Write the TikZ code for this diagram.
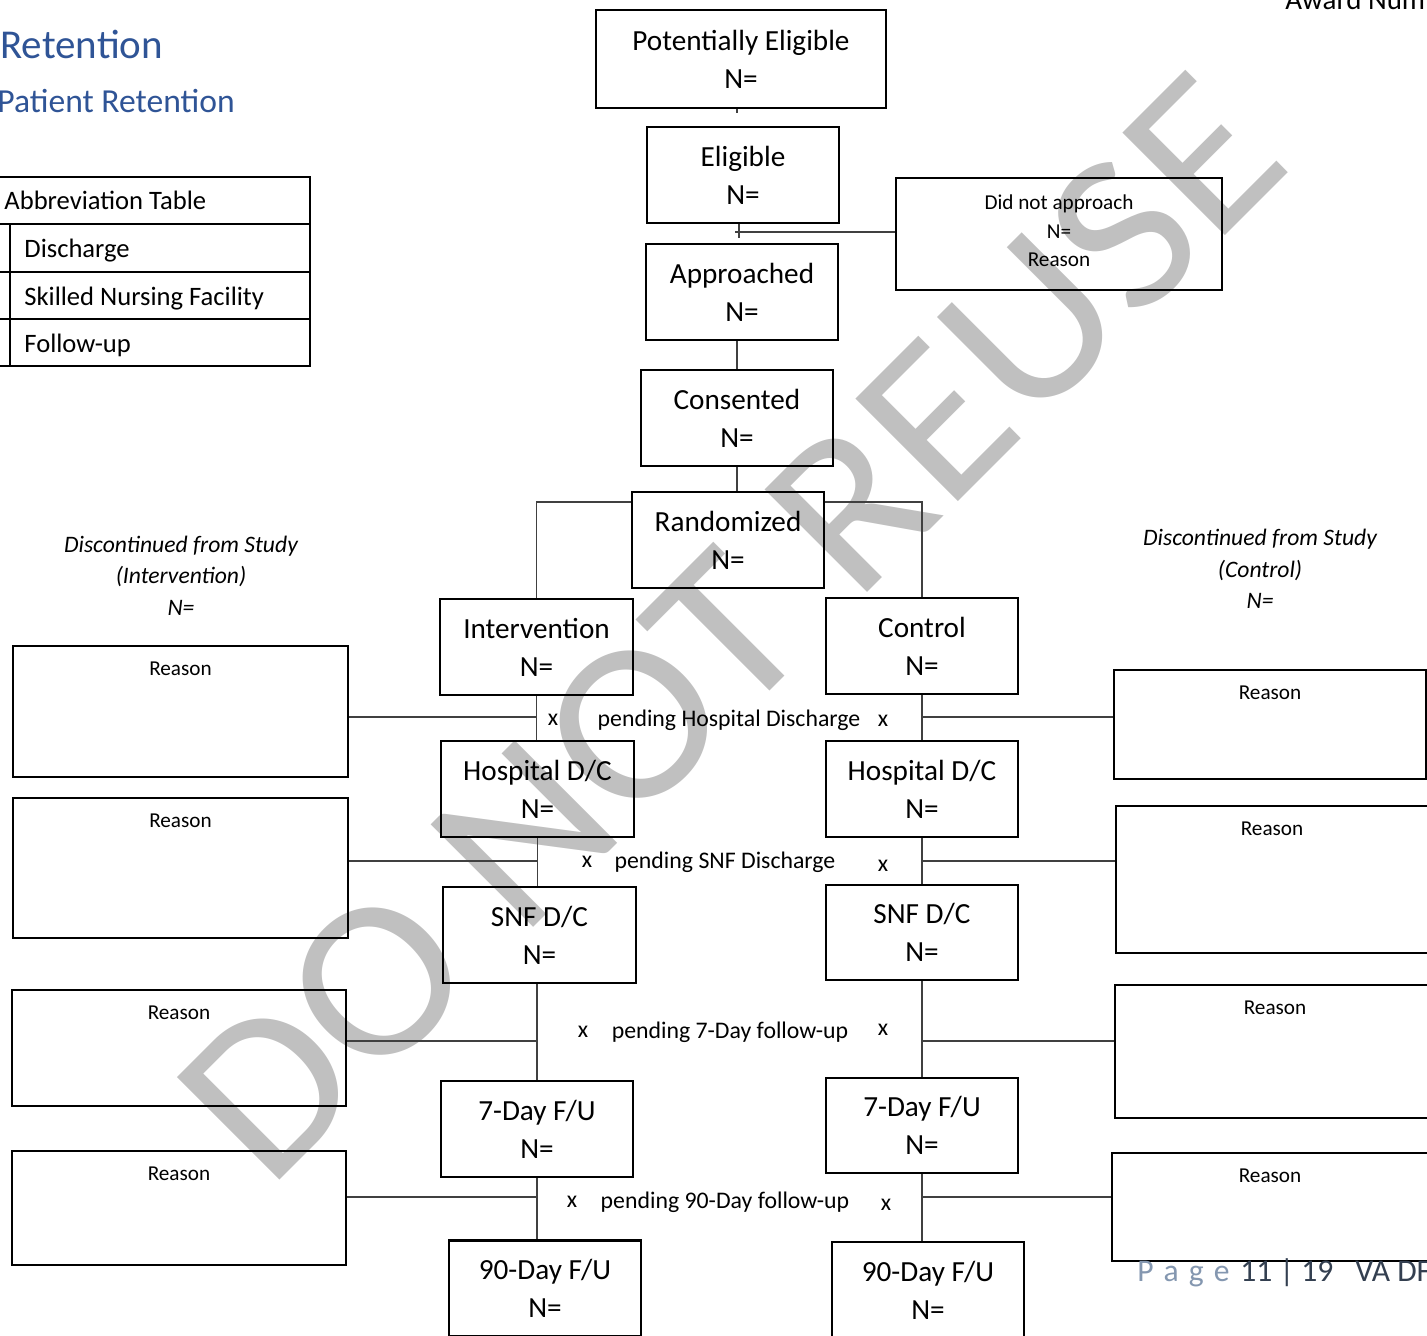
\documentclass[tikz,border=0pt]{standalone}
\usepackage{fontspec}
\setmainfont{Carlito}
\definecolor{headblue}{HTML}{2F5496}
\definecolor{pagegray}{HTML}{8497B0}
\definecolor{pagedark}{HTML}{333F50}
\definecolor{wmgray}{HTML}{C0C0C0}
\definecolor{linegray}{HTML}{404040}
\newcommand\myBoxFont{\fontsize{14.6}{19}\selectfont}
\newcommand\mySmallFont{\fontsize{10.6}{14.25}\selectfont}
\newcommand\myItFont{\fontsize{11.8}{15.75}\selectfont\itshape}
\newcommand\myPendFont{\fontsize{11.9}{14}\selectfont}
\newcommand\myTabFont{\fontsize{13.3}{16}\selectfont}
\newcommand\myWmFont{\fontsize{113}{113}\selectfont}
\begin{document}
\begin{tikzpicture}[x=0.5pt,y=-0.5pt,
  box/.style={draw, line width=1.3pt, minimum width=96pt, minimum height=48pt, align=center, inner sep=0pt, font=\myBoxFont},
  rbox/.style={draw, line width=1.3pt, inner sep=0pt},
  rlabel/.style={anchor=center, yshift=-12pt, font=\mySmallFont, inner sep=0pt},
  conn/.style={draw=linegray, line width=0.65pt},
  pend/.style={font=\myPendFont, inner sep=0pt},
  itlab/.style={font=\myItFont, align=center, inner sep=0pt},
  tabtext/.style={font=\myTabFont, anchor=base west, inner sep=0pt}]
\useasboundingbox (0,0) rectangle (1427,1335);
\clip (0,0) rectangle (1427,1335);

% watermark
\node[rotate=45, xscale=1.05, text=wmgray, font=\myWmFont, inner sep=0pt] (wm) at (731,627) {DO NOT REUSE};

% headings
\node[anchor=base west, inner sep=0pt, text=headblue, font=\fontsize{20.5}{24}\selectfont] (h1) at (0,58) {Retention};
\node[anchor=base west, inner sep=0pt, text=headblue, font=\fontsize{16.8}{20}\selectfont] (h2) at (-3,112) {Patient Retention};
\node[anchor=base west, inner sep=0pt, font=\fontsize{14.5}{17}\selectfont] (award) at (1285,9) {Award Num};

% abbreviation table
\draw[line width=1.3pt] (-10,177) rectangle (310,366);
\draw[line width=1.3pt] (-10,224) -- (310,224) (-10,272) -- (310,272) (-10,319) -- (310,319) (10,224) -- (10,366);
\node[tabtext] (t0) at (4,209) {Abbreviation Table};
\node[tabtext] (t1) at (24,257) {Discharge};
\node[tabtext] (t2) at (24,305) {Skilled Nursing Facility};
\node[tabtext] (t3) at (24,352) {Follow-up};

% main flow
\node[box, minimum width=145pt, minimum height=49pt] (PE) at (741,59) {Potentially Eligible\\N=};
\node[box] (El) at (743,175) {Eligible\\N=};
\node[box] (Ap) at (742,292) {Approached\\N=};
\node[box] (Co) at (737,418) {Consented\\N=};
\node[box] (Ra) at (728,540) {Randomized\\N=};
\node[box, minimum width=96.5pt] (Int) at (536.5,647) {Intervention\\N=};
\node[box] (Ctl) at (922,646) {Control\\N=};
\node[box, minimum width=96.5pt] (HDL) at (537.5,789) {Hospital D/C\\N=};
\node[box] (HDR) at (922,789) {Hospital D/C\\N=};
\node[box, minimum width=96.5pt] (SNFL) at (539.5,935) {SNF D/C\\N=};
\node[box, minimum height=47.5pt] (SNFR) at (922,932.5) {SNF D/C\\N=};
\node[box] (SevL) at (537,1129) {7-Day F/U\\N=};
\node[box, minimum height=47.5pt] (SevR) at (922,1125.5) {7-Day F/U\\N=};
\node[box] (NinL) at (545,1288.5) {90-Day F/U\\N=};
\node[box] (NinR) at (928,1290) {90-Day F/U\\N=};

\node[box, minimum width=163pt, minimum height=56pt, font=\mySmallFont, text depth=3pt] (DNA) at (1059,234) {Did not approach\\N=\\Reason};

% discontinued labels
\node[itlab] (dl) at (181,575.5) {Discontinued from Study\\(Intervention)\\N=};
\node[itlab] (dr) at (1260,569) {Discontinued from Study\\(Control)\\N=};

% reason boxes
\node[rbox, minimum width=167.5pt, minimum height=65.5pt, label={[rlabel]north:Reason}] (L1) at (180.5,711.5) {};
\node[rbox, minimum width=167.5pt, minimum height=70pt, label={[rlabel]north:Reason}] (L2) at (180.5,868) {};
\node[rbox, minimum width=167pt, minimum height=58pt, label={[rlabel]north:Reason}] (L3) at (179,1048) {};
\node[rbox, minimum width=167pt, minimum height=57pt, label={[rlabel]north:Reason}] (L4) at (179,1208) {};
\node[rbox, minimum width=156pt, minimum height=54.5pt, label={[rlabel]north:Reason}] (R1) at (1270,724.5) {};
\node[rbox, minimum width=156pt, minimum height=73.5pt, label={[rlabel]north:Reason}] (R2) at (1272,879.5) {};
\node[rbox, minimum width=160pt, minimum height=66.5pt, label={[rlabel]north:Reason}] (R3) at (1275,1051.5) {};
\node[rbox, minimum width=158pt, minimum height=54pt, label={[rlabel]north:Reason}] (R4) at (1270,1207) {};

% pending labels
\node[pend] (xa1) at (553,720) {x};
\node[pend] (pa) at (729,720) {pending Hospital Discharge};
\node[pend] (xa2) at (883,721) {x};
\node[pend] (xb1) at (587,862) {x};
\node[pend] (pb) at (725,862) {pending SNF Discharge};
\node[pend] (xb2) at (883,866) {x};
\node[pend] (xc1) at (583,1032) {x};
\node[pend] (pc) at (730,1032) {pending 7-Day follow-up};
\node[pend] (xc2) at (883,1030) {x};
\node[pend] (xd1) at (572,1202) {x};
\node[pend] (pd) at (725,1202) {pending 90-Day follow-up};
\node[pend] (xd2) at (886,1205) {x};

% footer
\node[anchor=base west, inner sep=0pt, text=pagegray, font=\fontsize{15.8}{18}\selectfont] (pg) at (1137,1281) {P\hspace{5pt}a\hspace{5pt}g\hspace{5pt}e};
\node[anchor=base west, inner sep=0pt, text=pagedark, font=\fontsize{15.8}{18}\selectfont] (pn) at (1240,1281) {11 | 19};
\node[anchor=base west, inner sep=0pt, text=pagedark, font=\fontsize{15.8}{18}\selectfont] (pv) at (1355,1281) {VA DF};

% connectors
\coordinate (tPE) at (737,113);
\draw[conn] (tPE |- PE.south) -- (tPE);
\coordinate (tE) at (739,238);
\coordinate (jE) at (735,232);
\draw[conn] (tE |- El.south) -- (tE);
\draw[conn] (jE) -- (DNA.west |- jE);
\draw[conn] (Co.north |- Ap.south) -- (Co.north);
\draw[conn] (Co.south) -- (Co.south |- Ra.north);
\coordinate (rb) at (0,502);
\draw[conn] (Ra.west |- rb) -- (Int.north |- rb) -- (Int.north);
\draw[conn] (Ra.east |- rb) -- (Ctl.north |- rb) -- (Ctl.north);

\coordinate (yA) at (0,717);
\coordinate (yB) at (0,861);
\coordinate (yC) at (0,1041);
\coordinate (yD) at (0,1197);
\draw[conn] (Int.south) -- (Int.south |- HDL.north);
\draw[conn] (L1.east |- yA) -- (Int.south |- yA);
\draw[conn] (Ctl.south) -- (Ctl.south |- HDR.north);
\draw[conn] (Ctl.south |- yA) -- (R1.west |- yA);
\draw[conn] (HDL.south) -- (HDL.south |- SNFL.north);
\draw[conn] (L2.east |- yB) -- (HDL.south |- yB);
\draw[conn] (HDR.south) -- (HDR.south |- SNFR.north);
\draw[conn] (HDR.south |- yB) -- (R2.west |- yB);
\draw[conn] (SNFL.south -| SevL.north) -- (SevL.north);
\draw[conn] (L3.east |- yC) -- (SevL.north |- yC);
\draw[conn] (SNFR.south) -- (SNFR.south |- SevR.north);
\draw[conn] (SNFR.south |- yC) -- (R3.west |- yC);
\draw[conn] (SevL.south) -- (SevL.south |- NinL.north);
\draw[conn] (L4.east |- yD) -- (SevL.south |- yD);
\draw[conn] (SevR.south) -- (SevR.south |- NinR.north);
\draw[conn] (SevR.south |- yD) -- (R4.west |- yD);
\end{tikzpicture}
\end{document}
